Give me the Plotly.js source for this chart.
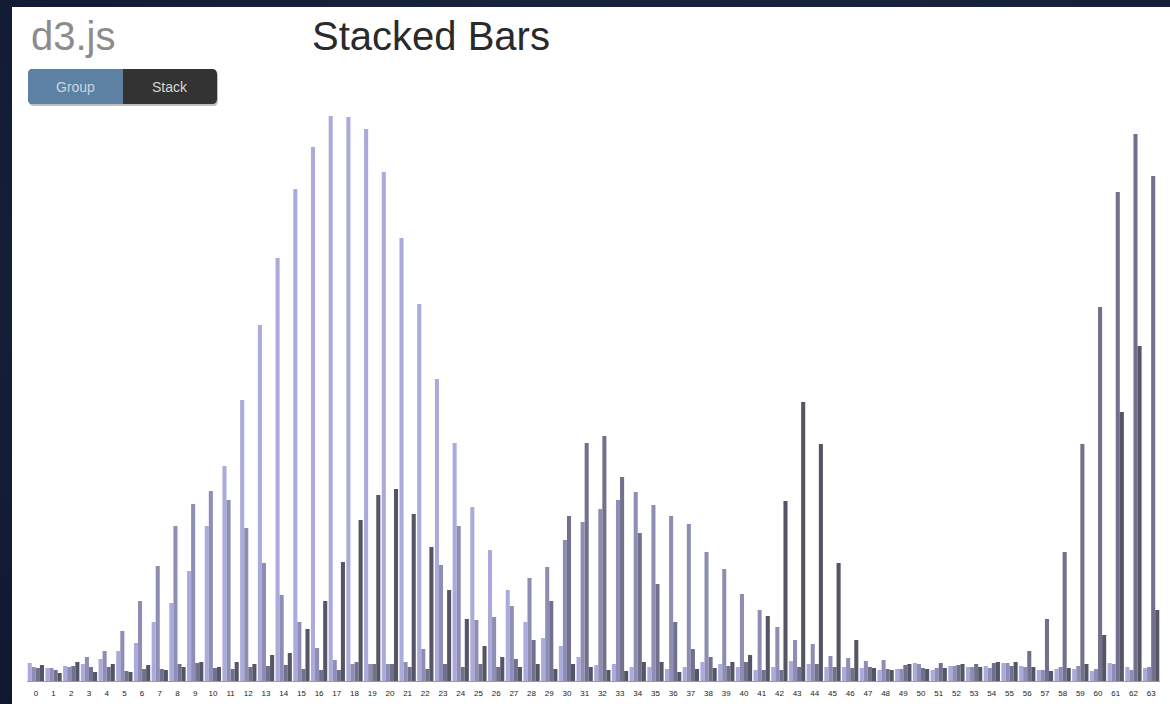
<!DOCTYPE html>
<html>
<head>
<meta charset="utf-8">
<script src="https://cdn.plot.ly/plotly-3.0.1.min.js"></script>
<style>
  html, body { margin: 0; padding: 0; width: 1170px; height: 704px; overflow: hidden;
    background: radial-gradient(ellipse at 60% 40%, #1f2c4c 0%, #16203a 60%, #101830 100%); }
  #chart { position: absolute; left: 12px; top: 7px; width: 1158px; height: 697px; background: #fff; }
</style>
</head>
<body>
<div id="chart"></div>
<script>
// Category tick labels
const categories = ["0","1","2","3","4","5","6","7","8","9","10","11","12","13","14","15",
  "16","17","18","19","20","21","22","23","24","25","26","27","28","29","30","31",
  "32","33","34","35","36","37","38","39","40","41","42","43","44","45","46","47",
  "48","49","50","51","52","53","54","55","56","57","58","59","60","61","62","63"];

// Layer values
const layer0 = [18,13,15,17,22,30,38,59,78,110,155,215,281,356,423,492,
  534,565,564,552,509,443,377,302,238,174,131,91,59,43,35,24,
  16,17,14,14,12,14,19,17,14,11,14,20,17,14,14,13,
  11,12,18,11,15,14,15,18,15,11,12,12,10,18,14,13];
const layer1 = [14,13,14,24,30,50,80,115,155,177,190,181,153,118,86,59,
  33,21,17,17,17,19,32,116,155,61,64,75,103,114,141,159,
  172,181,189,176,165,157,129,112,87,71,54,41,37,25,23,20,
  21,12,17,13,15,14,13,18,14,11,14,15,12,17,11,14];
const layer2 = [13,11,15,14,14,10,12,12,17,18,13,12,14,15,16,12,
  11,11,19,17,17,14,12,17,14,17,14,22,41,80,165,238,
  245,204,148,97,59,32,24,15,19,11,11,14,17,14,13,14,
  12,16,13,18,16,17,18,15,30,62,129,237,374,489,547,505];
const layer3 = [16,8,19,9,17,9,16,11,14,19,14,19,17,26,28,52,
  80,119,161,186,192,167,134,91,62,35,24,14,17,12,17,14,
  11,10,19,19,9,12,13,19,26,65,180,279,237,118,41,13,
  11,17,12,13,17,14,19,19,14,10,13,17,46,269,335,71];

const layers = [layer0, layer1, layer2, layer3];
const colors = ["#aaaadd", "#8e8eb5", "#71718e", "#555566"];

const traces = layers.map((vals, i) => ({
  type: "bar",
  x: categories,
  y: vals,
  marker: { color: colors[i], line: { width: 0 } },
  hoverinfo: "none",
  showlegend: false
}));

// div geometry helpers (page pixel -> paper coords)
const DIV_L = 12, DIV_T = 7, ML = 15, MR = 10, MT = 74, MB = 23, W = 1158, H = 697;
const PW = W - ML - MR, PH = H - MT - MB;
const fx = X => (X - DIV_L - ML) / PW;
const fy = Y => (H - MB - (Y - DIV_T)) / PH;

function rrect(x0, y0, x1, y1, r, corners) {
  const X0 = fx(x0), X1 = fx(x1), Y0 = fy(y0), Y1 = fy(y1);
  const rx = r / PW, ry = r / PH;
  const [tl, tr, br, bl] = corners;
  let p = "";
  p += "M" + (tl ? X0 + rx : X0) + "," + Y0;
  p += " L" + (tr ? X1 - rx : X1) + "," + Y0;
  if (tr) p += " Q" + X1 + "," + Y0 + " " + X1 + "," + (Y0 - ry);
  p += " L" + X1 + "," + (br ? Y1 + ry : Y1);
  if (br) p += " Q" + X1 + "," + Y1 + " " + (X1 - rx) + "," + Y1;
  p += " L" + (bl ? X0 + rx : X0) + "," + Y1;
  if (bl) p += " Q" + X0 + "," + Y1 + " " + X0 + "," + (Y1 + ry);
  p += " L" + X0 + "," + (tl ? Y0 - ry : Y0);
  if (tl) p += " Q" + X0 + "," + Y0 + " " + (X0 + rx) + "," + Y0;
  p += " Z";
  return p;
}

const layout = {
  width: W, height: H,
  margin: { l: ML, r: MR, t: MT, b: MB, pad: 0 },
  paper_bgcolor: "#ffffff",
  plot_bgcolor: "#ffffff",
  barmode: "group",
  bargap: 0.08,
  bargroupgap: 0,
  font: { family: "Liberation Sans, Arial, sans-serif", color: "#333" },
  xaxis: {
    type: "category",
    range: [-0.5, 63.5],
    showgrid: false, zeroline: false,
    showline: true, linecolor: "#9a9a9a", linewidth: 1,
    ticks: "outside", ticklen: 4, tickcolor: "rgba(0,0,0,0)",
    tickfont: { size: 8, color: "#222", family: "Liberation Sans, Arial, sans-serif" },
    tickangle: 0,
    fixedrange: true
  },
  yaxis: {
    range: [0, 600],
    visible: false,
    showgrid: false, zeroline: false,
    fixedrange: true
  },
  shapes: [
    { type: "path", xref: "paper", yref: "paper", layer: "above",
      path: rrect(29, 71, 218, 106, 5, [true, true, true, true]),
      fillcolor: "rgba(0,0,0,0.25)", line: { width: 0 } },
    { type: "path", xref: "paper", yref: "paper", layer: "above",
      path: rrect(28, 69, 217, 104, 5, [true, true, true, true]),
      fillcolor: "#333333", line: { width: 0 } },
    { type: "path", xref: "paper", yref: "paper", layer: "above",
      path: rrect(28, 69, 123, 104, 5, [true, false, false, true]),
      fillcolor: "#5c81a3", line: { width: 0 } }
  ],
  annotations: [
    { text: "d3.js", xref: "paper", yref: "paper", x: fx(29), y: fy(36),
      xanchor: "left", yanchor: "middle", showarrow: false,
      font: { size: 40, color: "#8c8c8c", family: "Liberation Sans, Arial, sans-serif" } },
    { text: "Stacked Bars", xref: "paper", yref: "paper", x: fx(310), y: fy(36),
      xanchor: "left", yanchor: "middle", showarrow: false,
      font: { size: 40, color: "#2a2a2a", family: "Liberation Sans, Arial, sans-serif" } },
    { text: "Group", xref: "paper", yref: "paper", x: fx(75.5), y: fy(87),
      xanchor: "center", yanchor: "middle", showarrow: false,
      font: { size: 14, color: "#c9d5e2", family: "Liberation Sans, Arial, sans-serif" } },
    { text: "Stack", xref: "paper", yref: "paper", x: fx(170), y: fy(87),
      xanchor: "center", yanchor: "middle", showarrow: false,
      font: { size: 14, color: "#d6d6d6", family: "Liberation Sans, Arial, sans-serif" } }
  ]
};

Plotly.newPlot("chart", traces, layout, { displayModeBar: false, staticPlot: true });
</script>
</body>
</html>
